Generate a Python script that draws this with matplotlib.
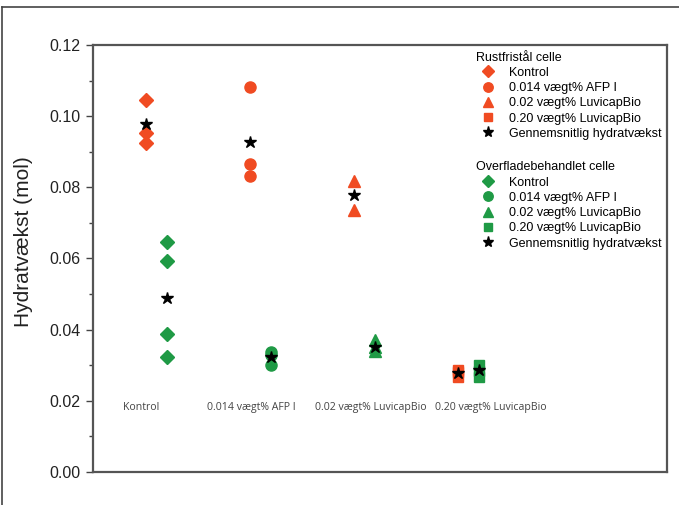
import matplotlib
matplotlib.use('Agg')
import matplotlib.pyplot as plt
from matplotlib.lines import Line2D
from matplotlib.ticker import MultipleLocator, FormatStrFormatter

plt.rcParams['font.family'] = ['Liberation Sans', 'DejaVu Sans']

# categories along x
cat_labels = ['Kontrol', '0.014 vægt% AFP I', '0.02 vægt% LuvicapBio', '0.20 vægt% LuvicapBio']

# Rustfristål celle (red)
red_kontrol = [0.1045, 0.0953, 0.0925]
red_afp = [0.1083, 0.0865, 0.0832]
red_luv002 = [0.0819, 0.0736]
red_luv020 = [0.0287, 0.0280, 0.0266]
red_mean = [0.0977, 0.0926, 0.0778, 0.0278]

# Overfladebehandlet celle (green)
green_kontrol = [0.0647, 0.0593, 0.0388, 0.0322]
green_afp = [0.0338, 0.0330, 0.0301]
green_luv002 = [0.0372, 0.0350, 0.0340]
green_luv020 = [0.0301, 0.0285, 0.0267]
green_mean = [0.0488, 0.0324, 0.0352, 0.0286]

markers = ['D', 'o', '^', 's']
red = '#f04b22'
green = '#1f9a45'

fig = plt.figure(figsize=(6.79, 5.05), dpi=100)
ax = fig.add_axes([0.137, 0.0653, 0.845, 0.8457])

red_groups = [red_kontrol, red_afp, red_luv002, red_luv020]
green_groups = [green_kontrol, green_afp, green_luv002, green_luv020]
msize = [7, 8, 8, 6.5]

for i, (vals, m, ms) in enumerate(zip(red_groups, markers, msize)):
    ax.plot([i + 1 - 0.1] * len(vals), vals, ls='none', marker=m, ms=ms,
            color=red, mec=red)
for i, (vals, m, ms) in enumerate(zip(green_groups, markers, msize)):
    ax.plot([i + 1 + 0.1] * len(vals), vals, ls='none', marker=m, ms=ms,
            color=green, mec=green)
xs = range(1, 5)
ax.plot([x - 0.1 for x in xs], red_mean, ls='none', marker='*', ms=9, color='black')
ax.plot([x + 0.1 for x in xs], green_mean, ls='none', marker='*', ms=9, color='black')

# category labels inside the plot
label_dx = [-0.32, -0.515, -0.47, -0.32]
for i, (lab, dx) in enumerate(zip(cat_labels, label_dx)):
    ax.text(i + 1 + dx, 0.018, lab, fontsize=7.6, family='Open Sans',
            color='#444444', va='center', ha='left')

ax.set_xlim(0.39, 5.91)
ax.set_ylim(0, 0.12)
ax.set_xticks([])
ax.yaxis.set_major_locator(MultipleLocator(0.02))
ax.yaxis.set_minor_locator(MultipleLocator(0.01))
ax.yaxis.set_major_formatter(FormatStrFormatter('%.2f'))
ax.tick_params(axis='y', which='major', direction='out', length=5, width=1,
               color='#444444', labelsize=11.5, labelcolor='#222222', pad=4)
ax.tick_params(axis='y', which='minor', direction='out', length=3, width=1,
               color='#444444')
for sp in ax.spines.values():
    sp.set_color('#555555')
    sp.set_linewidth(1.6)
ax.set_ylabel('Hydratvækst (mol)', fontsize=15, color='#222222')
ax.yaxis.set_label_coords(-0.105, 0.54)

# legends
def handles(color):
    hs = [Line2D([], [], ls='none', marker=m, ms=ms * 0.85, color=color)
          for m, ms in zip(markers, msize)]
    hs.append(Line2D([], [], ls='none', marker='*', ms=8, color='black'))
    return hs

names = ['Kontrol', '0.014 vægt% AFP I', '0.02 vægt% LuvicapBio',
         '0.20 vægt% LuvicapBio', 'Gennemsnitlig hydratvækst']
leg_kw = dict(loc='upper left', frameon=False, fontsize=9, title_fontsize=9,
              alignment='left', handlelength=1.92, handletextpad=0.72,
              labelspacing=0.26, borderpad=0.2)
leg1 = ax.legend(handles(red), names, title='Rustfristål celle',
                 bbox_to_anchor=(0.652, 1.005), **leg_kw)
ax.add_artist(leg1)
ax.legend(handles(green), names, title='Overfladebehandlet celle',
          bbox_to_anchor=(0.652, 0.748), **leg_kw)

# outer frame (top and left edges visible)
fig.add_artist(Line2D([2 / 679, 1], [1 - 7 / 505] * 2, color='#444444', lw=1.2))
fig.add_artist(Line2D([2 / 679] * 2, [0, 1 - 7 / 505], color='#444444', lw=1.2))

fig.savefig('out.png', dpi=100)
